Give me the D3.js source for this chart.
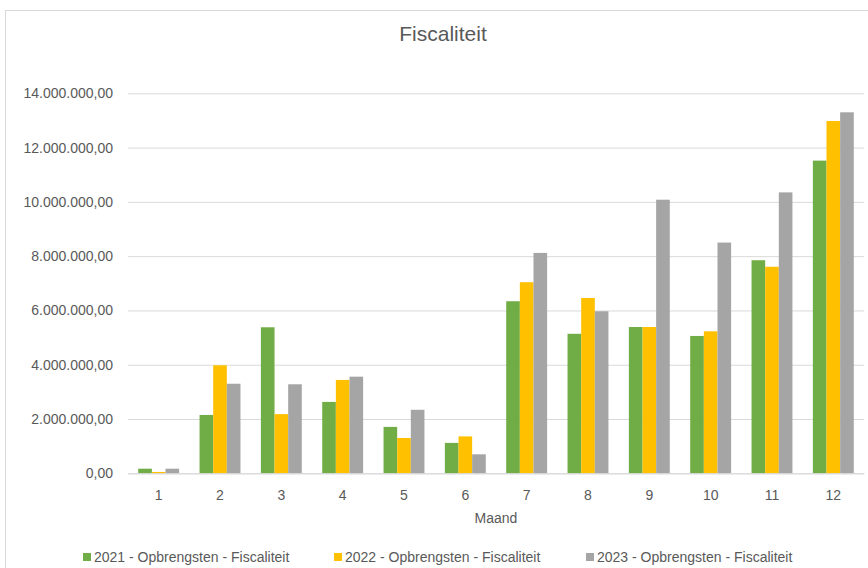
<!DOCTYPE html>
<html>
<head>
<meta charset="utf-8">
<script src="https://cdn.jsdelivr.net/npm/d3@7"></script>
<style>
  body { margin: 0; background: #fff; }
  text { font-family: "Liberation Sans", Arial, sans-serif; }
</style>
</head>
<body>
<svg id="chart"></svg>
<script>
const width = 868;
const height = 568;

// months on the x axis
const months = ['1','2','3','4','5','6','7','8','9','10','11','12'];
const seriesNames = [
  '2021 - Opbrengsten - Fiscaliteit',
  '2022 - Opbrengsten - Fiscaliteit',
  '2023 - Opbrengsten - Fiscaliteit'
];
// values in euro
const v2021 = [170000, 2150000, 5380000, 2630000, 1710000, 1120000, 6340000, 5140000, 5390000, 5060000, 7850000, 11520000];
const v2022 = [50000, 3980000, 2180000, 3440000, 1300000, 1360000, 7040000, 6460000, 5390000, 5230000, 7610000, 12980000];
const v2023 = [170000, 3300000, 3280000, 3560000, 2340000, 700000, 8120000, 5970000, 10080000, 8500000, 10350000, 13300000];
const yTicks = [0, 2000000, 4000000, 6000000, 8000000, 10000000, 12000000, 14000000];
const colors = ['#70AD47', '#FFC000', '#A5A5A5'];

const series = [v2021, v2022, v2023];

const nl = d3.formatLocale({decimal: ',', thousands: '.', grouping: [3], currency: ['€', '']});
const fmt = nl.format(',.2f');

const plotL = 128, plotR = 864, plotT = 93.3, plotB = 473.3;

const svg = d3.select('#chart')
  .attr('width', width)
  .attr('height', height);

// chart frame
svg.append('rect')
  .attr('x', 5.5).attr('y', 10.5)
  .attr('width', 880).attr('height', 580)
  .style('fill', 'white')
  .style('stroke', '#d9d9d9');

svg.append('text')
  .attr('x', 443).attr('y', 41)
  .attr('text-anchor', 'middle')
  .style('fill', '#595959')
  .style('font-size', '21px')
  .text('Fiscaliteit');

const x = d3.scaleBand()
  .domain(months)
  .range([plotL, plotR])
  .paddingInner(0.333)
  .paddingOuter(0.1667);

const xs = d3.scaleBand()
  .domain(d3.range(series.length))
  .range([0, x.bandwidth()]);

const y = d3.scaleLinear()
  .domain([0, 14000000])
  .range([plotB, plotT]);

// gridlines
const yAxis = d3.axisLeft(y)
  .tickValues(yTicks)
  .tickSize(-(plotR - plotL))
  .tickPadding(15)
  .tickFormat(fmt);

const gy = svg.append('g')
  .attr('transform', `translate(${plotL},0)`)
  .call(yAxis);
gy.select('.domain').remove();
gy.selectAll('.tick line')
  .style('stroke', '#d9d9d9')
  .style('stroke-width', 1);
gy.selectAll('.tick text')
  .style('fill', '#595959')
  .style('font-size', '14px')
  .style('font-family', '"Liberation Sans", Arial, sans-serif');

// bars
series.forEach((vals, s) => {
  svg.append('g')
    .selectAll('rect')
    .data(vals)
    .join('rect')
    .attr('x', (d, i) => x(months[i]) + xs(s))
    .attr('y', d => y(d))
    .attr('width', xs.bandwidth())
    .attr('height', d => y(0) - y(d))
    .style('fill', colors[s]);
});

// x axis
const gx = svg.append('g')
  .attr('transform', `translate(0,${plotB})`)
  .call(d3.axisBottom(x).tickSize(0).tickPadding(17));
gx.select('.domain').style('stroke', '#d9d9d9');
gx.selectAll('.tick text')
  .style('fill', '#595959')
  .style('font-size', '14px')
  .style('font-family', '"Liberation Sans", Arial, sans-serif');

svg.append('text')
  .attr('x', (plotL + plotR) / 2).attr('y', 523)
  .attr('text-anchor', 'middle')
  .style('fill', '#595959')
  .style('font-size', '14px')
  .text('Maand');

// legend
const legendX = [83, 334, 586];
const lg = svg.append('g');
seriesNames.forEach((name, s) => {
  const item = lg.append('g').attr('transform', `translate(${legendX[s]},562)`);
  item.append('rect')
    .attr('x', 0).attr('y', -9)
    .attr('width', 8).attr('height', 8)
    .style('fill', colors[s]);
  item.append('text')
    .attr('x', 11).attr('y', 0)
    .style('fill', '#595959')
    .style('font-size', '14px')
    .text(name);
});
</script>
</body>
</html>
